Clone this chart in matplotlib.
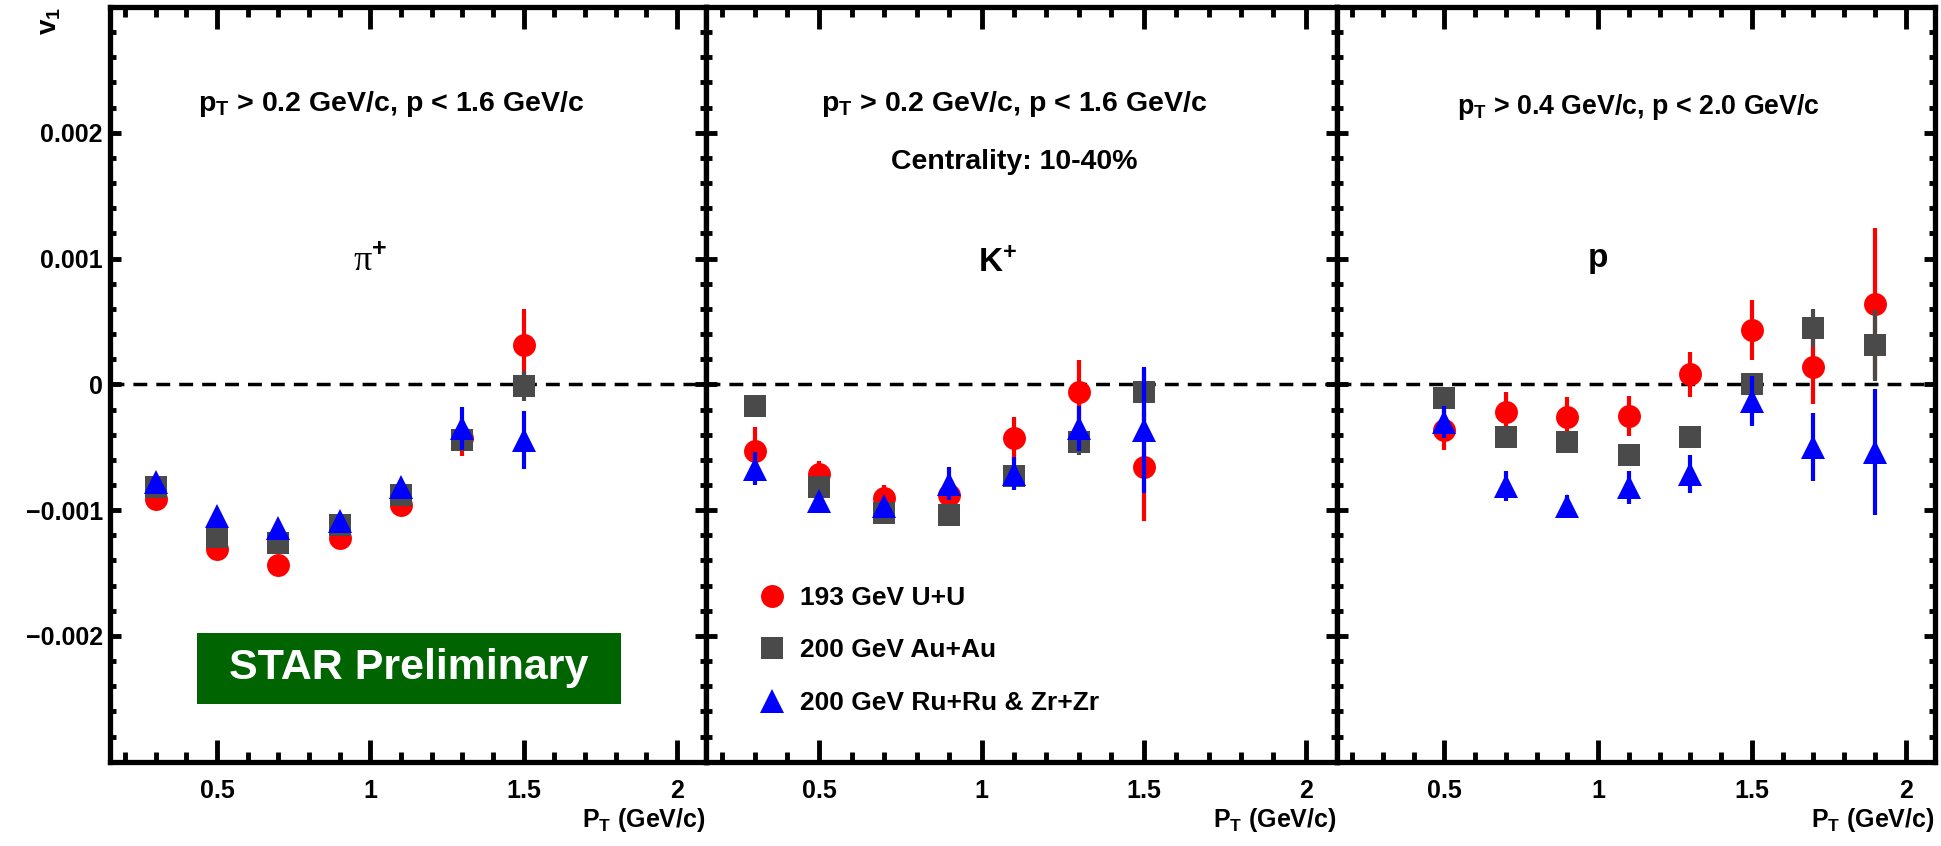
import matplotlib
matplotlib.use("Agg")
import matplotlib.pyplot as plt
from matplotlib.lines import Line2D
from matplotlib.patches import Rectangle
from matplotlib.ticker import MultipleLocator

plt.rcParams["font.family"] = "Liberation Sans"
plt.rcParams["font.weight"] = "bold"
plt.rcParams["mathtext.fontset"] = "custom"
plt.rcParams["mathtext.rm"] = "Liberation Sans:bold"
plt.rcParams["mathtext.it"] = "Liberation Sans:bold"
plt.rcParams["mathtext.bf"] = "Liberation Sans:bold"
plt.rcParams["mathtext.default"] = "rm"

# --- data (v1 vs pT, 10-40%) ---
series_labels = ["193 GeV U+U", "200 GeV Au+Au", "200 GeV Ru+Ru & Zr+Zr"]

# pi+
pt_pi = [0.3, 0.5, 0.7, 0.9, 1.1, 1.3, 1.5]
uu_pi = [-0.00091, -0.00131, -0.00144, -0.00122, -0.00096, -0.00043, 0.00031]
uu_pi_err = [0.00004, 0.00005, 0.00005, 0.00005, 0.00006, 0.00014, 0.00029]
auau_pi = [-0.00082, -0.00121, -0.00126, -0.00112, -0.00088, -0.00044, -0.00001]
auau_pi_err = [0.00003, 0.00003, 0.00004, 0.00004, 0.00005, 0.00008, 0.00012]
iso_pi = [-0.00078, -0.00105, -0.00114, -0.00109, -0.00082, -0.00035, -0.00044]
iso_pi_err = [0.00003, 0.00004, 0.00004, 0.00005, 0.00006, 0.00017, 0.00023]

# K+
pt_k = [0.3, 0.5, 0.7, 0.9, 1.1, 1.3, 1.5]
uu_k = [-0.00053, -0.00071, -0.00090, -0.00088, -0.00043, -0.00006, -0.00066]
uu_k_err = [0.00019, 0.00010, 0.00010, 0.00008, 0.00017, 0.00025, 0.00043]
auau_k = [-0.00017, -0.00082, -0.00102, -0.00104, -0.00073, -0.00046, -0.00006]
auau_k_err = [0.00004, 0.00005, 0.00005, 0.00005, 0.00006, 0.00010, 0.00019]
iso_k = [-0.00067, -0.00093, -0.00097, -0.00079, -0.00071, -0.00035, -0.00036]
iso_k_err = [0.00013, 0.00005, 0.00006, 0.00013, 0.00013, 0.00018, 0.00050]

# proton
pt_p = [0.5, 0.7, 0.9, 1.1, 1.3, 1.5, 1.7, 1.9]
uu_p = [-0.00036, -0.00022, -0.00026, -0.00025, 0.00008, 0.00043, 0.00014, 0.00064]
uu_p_err = [0.00016, 0.00016, 0.00016, 0.00016, 0.00018, 0.00024, 0.00030, 0.00060]
auau_p = [-0.00011, -0.00042, -0.00046, -0.00056, -0.00042, 0.0, 0.00045, 0.00031]
auau_p_err = [0.00005, 0.00006, 0.00006, 0.00007, 0.00007, 0.00008, 0.00015, 0.00028]
iso_p = [-0.00030, -0.00081, -0.00097, -0.00082, -0.00071, -0.00013, -0.00050, -0.00054]
iso_p_err = [0.00013, 0.00012, 0.00009, 0.00013, 0.00015, 0.00020, 0.00027, 0.00050]

cut_labels = [
    "p$_{T}$ > 0.2 GeV/c, p < 1.6 GeV/c",
    "p$_{T}$ > 0.2 GeV/c, p < 1.6 GeV/c",
    "p$_{T}$ > 0.4 GeV/c, p < 2.0 GeV/c",
]
y_ticks = [-0.002, -0.001, 0.0, 0.001, 0.002]
y_ticklabels = ["\u22120.002", "\u22120.001", "0", "0.001", "0.002"]
x_ticks = [0.5, 1.0, 1.5, 2.0]
x_ticklabels = ["0.5", "1", "1.5", "2"]

colors = ["#ff0000", "#4a4a4a", "#0000ff"]
markers = ["o", "s", "^"]
msizes = [16.5, 15.5, 17.5]

panels = [
    (pt_pi, [(uu_pi, uu_pi_err), (auau_pi, auau_pi_err), (iso_pi, iso_pi_err)]),
    (pt_k, [(uu_k, uu_k_err), (auau_k, auau_k_err), (iso_k, iso_k_err)]),
    (pt_p, [(uu_p, uu_p_err), (auau_p, auau_p_err), (iso_p, iso_p_err)]),
]

W, H = 1941, 846
fig = plt.figure(figsize=(W / 100, H / 100), dpi=100)
fig.patch.set_facecolor("white")

# pixel boxes of the three pads (left, right)
pads = [(109.7, 706.0), (706.0, 1336.7), (1336.7, 1935.0)]
top_px, bot_px = 7.0, 761.7

axes = []
for (l, r) in pads:
    ax = fig.add_axes([l / W, 1 - bot_px / H, (r - l) / W, (bot_px - top_px) / H])
    axes.append(ax)

for i, (ax, (pt, sets)) in enumerate(zip(axes, panels)):
    ax.set_xlim(0.15, 2.095)
    ax.set_ylim(-0.003, 0.003)
    ax.axhline(0, color="black", lw=2.5, ls=(0, (4, 2.6)), zorder=1)

    for k, (vals, errs) in enumerate(sets):
        ax.errorbar(pt, vals, yerr=errs, fmt=markers[k], color=colors[k],
                    ms=msizes[k], mew=0, elinewidth=3, capsize=0,
                    zorder=3 + k)

    ax.set_xticks(x_ticks)
    ax.set_xticklabels(x_ticklabels)
    ax.xaxis.set_minor_locator(MultipleLocator(0.1))
    ax.set_yticks(y_ticks)
    ax.yaxis.set_minor_locator(MultipleLocator(0.0002))
    if i == 0:
        ax.set_yticklabels(y_ticklabels)
    else:
        ax.set_yticklabels([])

    ax.tick_params(which="both", direction="in", top=True, right=True,
                   width=3.5, color="black", labelsize=18)
    ax.tick_params(axis="x", which="major", length=16, pad=12.5)
    ax.tick_params(axis="x", which="minor", length=7.5)
    ax.tick_params(axis="y", which="major", length=8, pad=5)
    ax.tick_params(axis="y", which="minor", length=4)
    for s in ax.spines.values():
        s.set_linewidth(3.8)

    ax.text(1.0, -0.077, "P$_{T}$ (GeV/c)", transform=ax.transAxes,
            ha="right", va="center", fontsize=18)

# panel texts
axes[0].text(1.07, 0.00217, cut_labels[0], ha="center", va="baseline", fontsize=20.5)
axes[1].text(1.10, 0.00217, cut_labels[1], ha="center", va="baseline", fontsize=20.5)
axes[2].text(1.13, 0.00215, cut_labels[2], ha="center", va="baseline", fontsize=19.3)
axes[1].text(1.10, 0.00171, "Centrality: 10-40%", ha="center", va="baseline", fontsize=20.5)

axes[0].text(1.0, 0.0009, "\u03c0$^{+}$", ha="center", va="baseline",
             fontsize=26, family="Liberation Serif", weight="normal")
axes[1].text(1.05, 0.00089, "K$^{+}$", ha="center", va="baseline", fontsize=24)
axes[2].text(1.0, 0.00093, "p", ha="center", va="baseline", fontsize=24)

# y axis title
axes[0].text(-0.1, 1.0, "v$_{1}$", transform=axes[0].transAxes, rotation=90,
             ha="center", va="top", fontsize=20)

# STAR Preliminary banner
axes[0].add_patch(Rectangle((0.1464, 0.0765), 0.7105, 0.0941, transform=axes[0].transAxes,
                            facecolor="#006400", edgecolor="none", zorder=5))
axes[0].text(0.1464 + 0.7105 / 2, 0.0765 + 0.0941 / 2, "STAR Preliminary",
             transform=axes[0].transAxes, ha="center", va="center",
             color="white", fontsize=31, zorder=6)

# legend
handles = [Line2D([], [], marker=markers[k], color=colors[k], ls="none",
                  ms=msizes[k], mew=0) for k in range(3)]
axes[1].legend(handles, series_labels, loc="upper left",
               bbox_to_anchor=(0.0835, 0.233), frameon=False, fontsize=19,
               borderpad=0, borderaxespad=0, handlelength=1.0,
               handletextpad=0.55, labelspacing=1.08)

fig.savefig("out.png", dpi=100, facecolor="white")
